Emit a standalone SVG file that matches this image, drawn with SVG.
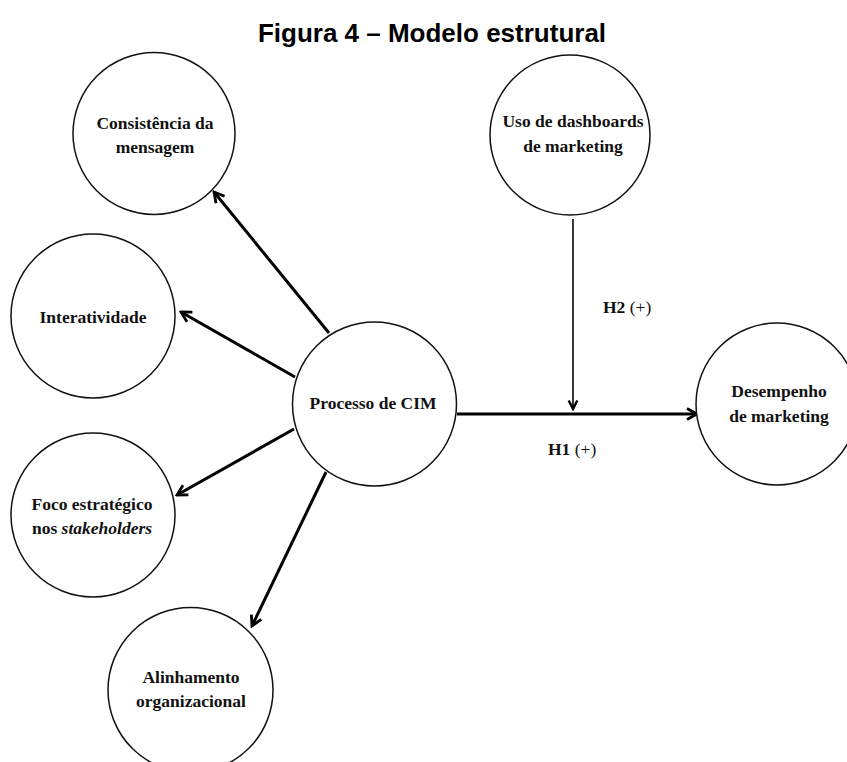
<svg xmlns="http://www.w3.org/2000/svg" width="847" height="762" viewBox="0 0 847 762">
  <style>
    .node circle { fill: #fff; stroke: #111; stroke-width: 1.5; }
    .lbl { font-family: "Liberation Serif", "Times New Roman", serif; font-weight: bold; font-size: 17.5px; fill: #111; text-anchor: middle; }
    .title { font-family: "Liberation Sans", Arial, sans-serif; font-weight: bold; font-size: 26px; fill: #000; text-anchor: middle; }
    .edge { stroke: #000; stroke-width: 3; fill: none; marker-end: url(#arrow); }
    .edge.thin { stroke: #222; stroke-width: 1.8; marker-end: url(#arrowThin); }
    .hyp { font-family: "Liberation Serif", "Times New Roman", serif; font-size: 17.5px; fill: #111; }
  </style>
  <defs>
    <marker id="arrow" viewBox="0 0 14 14" refX="12" refY="7" markerWidth="14" markerHeight="14" markerUnits="userSpaceOnUse" orient="auto">
      <path d="M2,1.5 L12,7 L2,12.5" fill="none" stroke="#000" stroke-width="2.8" stroke-linejoin="miter"/>
    </marker>
    <marker id="arrowThin" viewBox="0 0 14 14" refX="12" refY="7" markerWidth="12" markerHeight="12" markerUnits="userSpaceOnUse" orient="auto">
      <path d="M2,2 L12,7 L2,12" fill="none" stroke="#000" stroke-width="2.8" stroke-linejoin="miter"/>
    </marker>
  </defs>

  <rect width="847" height="762" fill="#fff"/>

  <text class="title" x="432" y="41.5">Figura 4 – Modelo estrutural</text>

  <!-- connectors -->
  <g id="connectors">
    <line class="edge" x1="329" y1="333" x2="214" y2="192"/>
    <line class="edge" x1="295" y1="377" x2="181" y2="312"/>
    <line class="edge" x1="294" y1="429" x2="177" y2="495"/>
    <line class="edge" x1="326" y1="472" x2="252" y2="626"/>
    <line class="edge" x1="457" y1="414" x2="697" y2="414"/>
    <line class="edge thin" x1="573" y1="219" x2="573" y2="409"/>
    <text class="hyp" x="603" y="313"><tspan font-weight="bold">H2</tspan> (+)</text>
    <text class="hyp" x="548" y="455"><tspan font-weight="bold">H1</tspan> (+)</text>
  </g>

  <!-- nodes -->
  <g id="consistencia" class="node">
    <circle cx="154" cy="133.5" r="81"/>
    <text class="lbl" x="155" y="129">Consistência da</text>
    <text class="lbl" x="155" y="153">mensagem</text>
  </g>
  <g id="dashboards" class="node">
    <circle cx="570" cy="135" r="80"/>
    <text class="lbl" x="573" y="127">Uso de dashboards</text>
    <text class="lbl" x="573" y="152">de marketing</text>
  </g>
  <g id="interatividade" class="node">
    <circle cx="93" cy="316" r="82"/>
    <text class="lbl" x="93" y="323">Interatividade</text>
  </g>
  <g id="processo-cim" class="node">
    <circle cx="374.5" cy="404" r="82"/>
    <text class="lbl" x="373" y="409">Processo de CIM</text>
  </g>
  <g id="desempenho" class="node">
    <circle cx="777" cy="404" r="81"/>
    <text class="lbl" x="779" y="397">Desempenho</text>
    <text class="lbl" x="779" y="422">de marketing</text>
  </g>
  <g id="foco" class="node">
    <circle cx="93" cy="515" r="82"/>
    <text class="lbl" x="92" y="510">Foco estratégico</text>
    <text class="lbl" x="92" y="534">nos <tspan font-style="italic">stakeholders</tspan></text>
  </g>
  <g id="alinhamento" class="node">
    <circle cx="190.5" cy="690" r="82.5"/>
    <text class="lbl" x="191" y="683">Alinhamento</text>
    <text class="lbl" x="191" y="707">organizacional</text>
  </g>
</svg>
